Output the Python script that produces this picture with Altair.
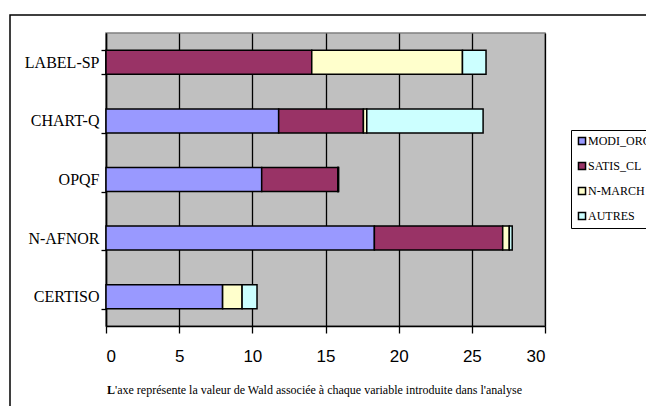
import altair as alt
import pandas as pd

categories = ["LABEL-SP", "CHART-Q", "OPQF", "N-AFNOR", "CERTISO"]
series = ["MODI_ORG", "SATIS_CL", "N-MARCH", "AUTRES"]
modi_org = [0.0, 11.8, 10.64, 18.34, 7.97]
satis_cl = [14.06, 5.79, 5.2, 8.77, 0.0]
n_march = [10.3, 0.23, 0.03, 0.45, 1.33]
autres = [1.61, 7.95, 0.03, 0.2, 1.02]
colors = ["#9999FF", "#993366", "#FFFFCC", "#CCFFFF"]
x_ticks = [0, 5, 10, 15, 20, 25, 30]
title_first = "L"
title_rest = "'axe représente la valeur de Wald associée à chaque variable introduite dans l'analyse"

SERIF = "Liberation Serif"
SANS = "Liberation Sans"

rows = []
for s_i, (name, vals) in enumerate(zip(series, [modi_org, satis_cl, n_march, autres])):
    for cat, v in zip(categories, vals):
        rows.append({"variable": cat, "serie": name, "valeur": v, "ordre": s_i})
df = pd.DataFrame(rows)

bars = alt.Chart(df).mark_bar(stroke="black", strokeWidth=1.5).encode(
    x=alt.X("valeur:Q", stack="zero",
            scale=alt.Scale(domain=[0, 30], nice=False),
            axis=alt.Axis(values=x_ticks, title=None, grid=True, gridColor="black",
                          gridOpacity=1, gridWidth=1.3, domainColor="black", domainWidth=1.5,
                          tickColor="black", tickSize=7, tickWidth=1.3,
                          labelFont=SANS, labelFontSize=17, labelColor="black",
                          labelPadding=15)),
    y=alt.Y("variable:N", sort=categories,
            scale=alt.Scale(paddingInner=0.59, paddingOuter=0.295),
            axis=alt.Axis(title=None, tickBand="extent", domainColor="black", domainWidth=1.5,
                          tickColor="black", tickSize=5, tickWidth=1.3,
                          labelFont=SERIF, labelFontSize=16, labelColor="black",
                          labelPadding=2)),
    color=alt.Color("serie:N", sort=series,
                    scale=alt.Scale(domain=series, range=colors),
                    legend=alt.Legend(title=None, orient="none", legendX=465, legendY=97,
                                      fillColor="white", strokeColor="black", padding=5,
                                      symbolType="square", symbolSize=50,
                                      symbolStrokeColor="black", symbolStrokeWidth=1.5,
                                      labelFont=SERIF, labelFontSize=12,
                                      labelColor="black", labelLimit=300, rowPadding=11,
                                      labelOffset=0)),
    order=alt.Order("ordre:Q", sort="ascending"),
)

one = pd.DataFrame({"a": [0]})

frame = alt.Chart(one).mark_rect(
    fill=None, stroke="black", strokeWidth=1.5
).encode(x=alt.value(-96), x2=alt.value(600), y=alt.value(-18), y2=alt.value(450))

t_bold = alt.Chart(one).mark_text(
    text=title_first, font=SERIF, fontSize=12, fontWeight="bold", color="black",
    align="left", baseline="middle"
).encode(x=alt.value(1), y=alt.value(357))

t_rest = alt.Chart(one).mark_text(
    text=title_rest, font=SERIF, fontSize=12, color="black",
    align="left", baseline="middle"
).encode(x=alt.value(9), y=alt.value(357))

chart = alt.layer(frame, bars, t_bold, t_rest).properties(
    width=439, height=293,
    padding={"left": 98, "top": 25, "right": 101, "bottom": 80},
    autosize=alt.AutoSizeParams(type="none"),
    background="white",
).configure_view(fill="#C0C0C0", stroke="#808080", strokeWidth=1.5)

chart.save("out.html", embed_options={"renderer": "svg", "actions": False})
